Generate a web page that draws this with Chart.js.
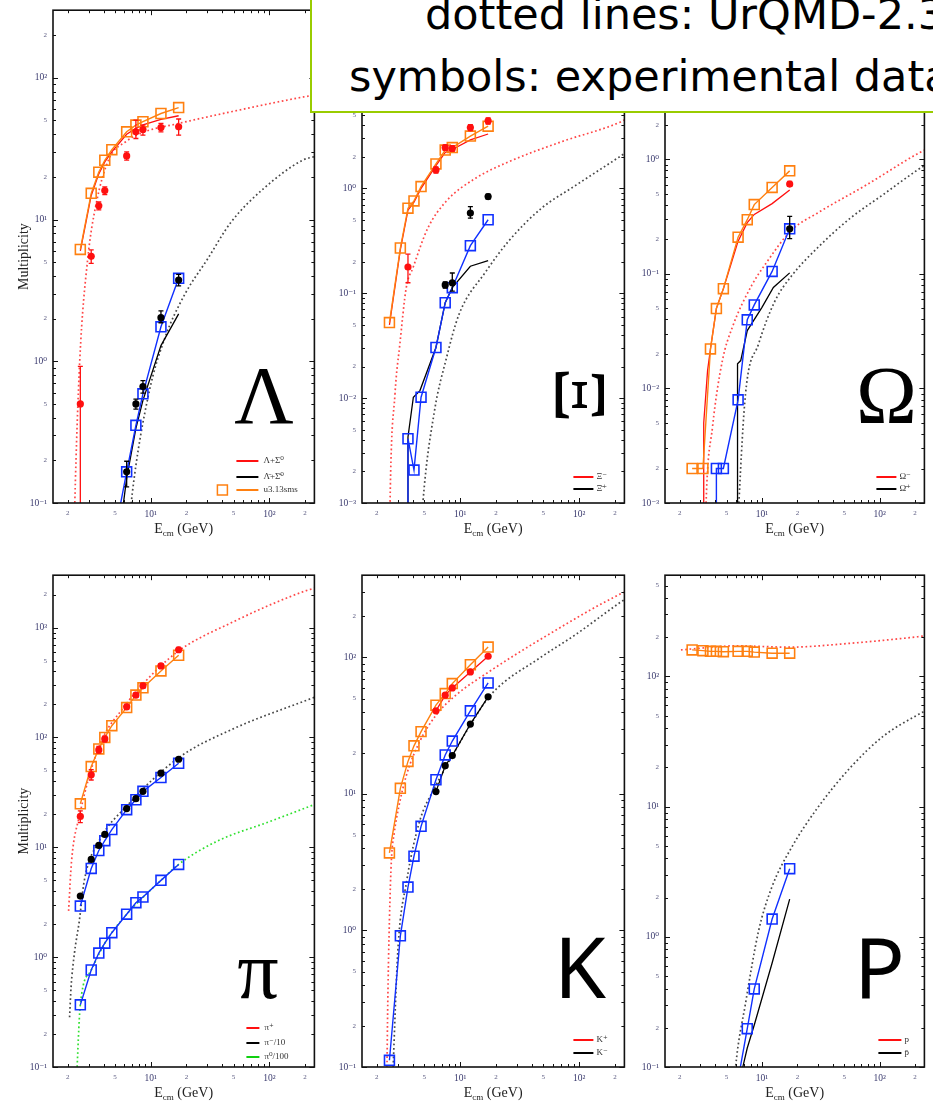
<!DOCTYPE html>
<html>
<head>
<meta charset="utf-8">
<script src="https://cdn.jsdelivr.net/npm/chart.js@4.4.1/dist/chart.umd.min.js"></script>
<style>
  html, body { margin: 0; padding: 0; background: #fff; }
  body { width: 933px; height: 1101px; position: relative; overflow: hidden; }
  canvas { position: absolute; }
  #note {
    position: absolute; left: 310px; top: -10px; width: 700px; height: 119px;
    border: 2.5px solid #99cc00; background: #fff; z-index: 5;
    font-family: 'DejaVu Sans', sans-serif; font-size: 43px; color: #000;
  }
  #note span { position: absolute; white-space: nowrap; line-height: 43px; }
</style>
</head>
<body>
<div id="note">
  <span style="left:113px; top:1px;">dotted lines: UrQMD-2.3</span>
  <span style="left:37px; top:63px;">symbols: experimental data</span>
</div>
<script>
// beam energies (sqrt s, GeV) of the model / data points
const E = [2.55, 3.15, 3.65, 4.1, 4.7, 6.27, 7.5, 8.6, 12.2, 17.2];

// ---- Lambda ----
const lamSqOrange = [6.15, 15.3, 21.6, 26.2, 31.1, 41.6, 46.4, 49, 56, 61.7];
const lamLineRed = [6.0, 14.8, 21, 25.5, 30, 40, 44, 46.5, 51, 54];
const lamDataE = [2.55, 3.15, 3.65, 4.1, 6.27, 7.5, 8.6, 12.2, 17.2];
const lamData = [0.5, 5.5, 12.5, 16.0, 28.1, 41.6, 43.2, 44.6, 45.1];
const lamDataLo = [0.05, 4.9, 11.7, 15.0, 26.3, 37.3, 39.4, 41.6, 39.4];
const lamDataHi = [0.92, 6.1, 13.3, 17.0, 30.0, 50.3, 46.4, 47.6, 51.2];
const alamDataE = [6.27, 7.5, 8.6, 12.2, 17.2];
const alamData = [0.166, 0.50, 0.664, 2.03, 3.74];
const alamDataLo = [0.130, 0.46, 0.596, 1.87, 3.4];
const alamDataHi = [0.197, 0.54, 0.73, 2.27, 4.1];
const alamSqE = [4.7, 6.27, 7.5, 8.6, 12.2, 17.2];
const alamSqBlue = [0.047, 0.166, 0.353, 0.589, 1.75, 3.85];
const alamLineBlack = [0.023, 0.15, 0.336, 0.53, 1.29, 2.16];
const lamUrE = [2.25, 2.29, 2.52, 2.93, 3.46, 4.47, 6.15, 8.45, 17.1, 47.2, 194, 240];
const lamUr = [0.05, 0.1, 1.0, 5.1, 12.8, 27, 35.4, 41, 47.6, 57.5, 73.3, 75.5];
const alamUrE = [6.6, 6.99, 9.62, 13.2, 19.4, 30.3, 47.2, 90, 194, 240];
const alamUr = [0.07, 0.117, 0.589, 1.47, 2.97, 5.3, 9.5, 16.6, 26.4, 27.8];

// ---- Xi ----
const xiSqOrange = [0.0525, 0.270, 0.647, 0.760, 1.04, 1.71, 2.32, 2.45, 3.15, 3.92];
const xiLineRed = [0.05, 0.26, 0.62, 0.74, 1.0, 1.65, 2.2, 2.35, 2.9, 3.3];
const xiDataE = [3.65, 6.27, 7.5, 8.6, 12.2, 17.2];
const xiData = [0.178, 1.50, 2.45, 2.40, 3.80, 4.40];
const xiDataLo = [0.126, 1.40, 2.30, 2.25, 3.55, 4.10];
const xiDataHi = [0.236, 1.60, 2.60, 2.55, 4.05, 4.70];
const axiDataE = [7.5, 8.6, 12.2, 17.2];
const axiData = [0.120, 0.126, 0.581, 0.835];
const axiDataLo = [0.112, 0.105, 0.52, 0.79];
const axiDataHi = [0.128, 0.156, 0.67, 0.88];
const axiSqE = [3.65, 3.65, 4.1, 4.7, 6.27, 7.5, 8.6, 12.2, 17.2];
const axiSqBlue = [0.0001, 0.0041, 0.00206, 0.0102, 0.0304, 0.0813, 0.113, 0.284, 0.502];
const axiLineE = [3.65, 3.65, 4.05, 4.6, 6.27, 7.5, 8.6, 12.2, 17.2];
const axiLineBlack = [0.0001, 0.00426, 0.0102, 0.0118, 0.0304, 0.0813, 0.113, 0.181, 0.205];
const xiUrE = [2.55, 2.58, 2.84, 3.12, 3.53, 4.02, 5.36, 7.62, 13.5, 25.5, 70.8, 223, 240];
const xiUr = [0.0003, 0.001, 0.011, 0.0327, 0.113, 0.175, 0.418, 0.75, 1.25, 1.79, 2.78, 4.3, 4.5];
const axiUrE = [4.7, 4.87, 6.1, 7.6, 9.8, 16.4, 25.5, 48.3, 91.4, 230, 240];
const axiUr = [0.0005, 0.001, 0.0076, 0.023, 0.063, 0.16, 0.313, 0.647, 1.05, 2.08, 2.15];

// ---- Omega ----
const omSqOrange = [0.002, 0.002, 0.0221, 0.0498, 0.0743, 0.209, 0.297, 0.402, 0.568, 0.792];
const omLineE = [3.18, 3.2, 3.45, 3.65, 4.1, 4.7, 6.27, 7.5, 8.6, 12.2, 17.2];
const omLineRed = [0.0001, 0.005, 0.0143, 0.022, 0.05, 0.074, 0.193, 0.28, 0.33, 0.41, 0.54];
const omDataE = [17.2];
const omData = [0.607];
const omDataLo = [0.58];
const omDataHi = [0.64];
const aomDataE = [17.2];
const aomData = [0.247];
const aomDataLo = [0.203];
const aomDataHi = [0.318];
const aomSqE = [4.1, 4.1, 4.7, 6.27, 7.5, 8.6, 12.2, 17.2];
const aomSqBlue = [0.0001, 0.002, 0.002, 0.00796, 0.0397, 0.0536, 0.105, 0.247];
const aomLineE = [6.2, 6.2, 6.6, 7.5, 10, 12.5, 17.2];
const aomLineBlack = [0.0001, 0.0164, 0.0175, 0.032, 0.051, 0.076, 0.102];
const omUrE = [3.3, 3.35, 3.8, 4.61, 5.59, 8.22, 10.6, 17.8, 29.7, 77.8, 204, 240];
const omUr = [0.0005, 0.001, 0.0046, 0.0175, 0.034, 0.08, 0.12, 0.24, 0.34, 0.6, 1.1, 1.2];
const aomUrE = [6.2, 6.37, 7.25, 9.35, 12.9, 17.8, 29.7, 56.5, 107, 211, 240];
const aomUr = [0.0005, 0.001, 0.00897, 0.0244, 0.058, 0.0957, 0.169, 0.307, 0.491, 0.81, 0.88];

// ---- pions ----
const piSqOrange = [24.9, 54.3, 78.7, 100, 128, 187, 243, 283, 403, 560];
const piDataE = [2.55, 3.15, 3.65, 4.1, 6.27, 7.5, 8.6, 12.2, 17.2];
const piData = [19.1, 45.7, 77, 96.9, 190, 243, 295, 448, 629];
const piDataLo = [16.8, 41, 72, 91, 180, 232, 282, 425, 600];
const piDataHi = [21.5, 51, 83, 103, 200, 255, 310, 470, 660];
const pimData = [3.6, 7.75, 10.4, 13.1, 22.5, 27.7, 32.3, 47.3, 63.3];
const pimSqBlue = [2.92, 6.42, 9.35, 11.5, 14.5, 22, 27.1, 32.3, 43.2, 58.2];
const pi0SqBlue = [0.368, 0.764, 1.09, 1.34, 1.67, 2.46, 3.13, 3.53, 5.0, 6.98];
const pipUrE = [2.03, 2.15, 2.5, 3.67, 6.12, 8.41, 17.0, 47.1, 205, 240];
const pipUr = [2.64, 7.48, 19.1, 82.6, 197, 299, 608, 1099, 2173, 2280];
const pimUrE = [2.07, 2.13, 2.27, 2.5, 2.75, 3.67, 6.24, 17.0, 47.2, 225, 240];
const pimUr = [0.284, 0.531, 1.07, 2.14, 4.93, 11.4, 23.6, 64.7, 117, 226, 232];
const pi0UrE = [2.36, 2.55, 3.15, 4.1, 6.27, 8.6, 12.2, 17.2, 36.5, 100, 240];
const pi0Ur = [0.07, 0.37, 0.76, 1.34, 2.46, 3.5, 5.0, 7.0, 11.4, 17.1, 24.5];

// ---- kaons ----
const kpSqOrange = [3.70, 11.0, 17.3, 22.5, 28.6, 44.7, 54.3, 64.3, 88.5, 119];
const kDataE = [6.27, 7.5, 8.6, 12.2, 17.2];
const kpData = [40.6, 52.9, 59.8, 78.3, 102];
const kmSqBlue = [0.112, 0.914, 2.08, 3.50, 5.79, 12.7, 19.3, 24.4, 40.6, 65.0];
const kmData = [10.4, 16.1, 19.1, 32.5, 51.4];
const kpUrE = [2.42, 2.47, 2.55, 2.65, 2.8, 3.05, 3.55, 4.58, 6.29, 9.22, 17.4, 48.3, 223, 240];
const kpUr = [0.07, 0.3, 1.2, 3.3, 5.2, 8.0, 13.8, 24.2, 37.8, 52.9, 78.3, 137, 292, 300];
const kmUrE = [2.7, 2.74, 3.0, 3.56, 4.57, 6.09, 8.6, 12.2, 18.0, 48.3, 91.4, 223, 240];
const kmUr = [0.07, 0.1, 0.71, 2.3, 6.3, 11, 19, 32, 52.9, 101, 145, 254, 265];

// ---- protons ----
const pSqOrange = [160, 158, 156, 156, 155, 156, 156, 154, 151, 151];
const pUrE = [2.05, 3.0, 6.0, 17.0, 56.5, 211, 240];
const pUr = [160, 165, 172, 168, 180, 202, 205];
const apSqE = [6.27, 7.5, 8.6, 12.2, 17.2];
const apSqBlue = [0.08, 0.197, 0.398, 1.37, 3.34];
const apLineBlack = [0.07, 0.14, 0.21, 0.63, 1.95];
const apUrE = [5.8, 5.97, 7.24, 9.36, 12.1, 17.8, 29.7, 56.5, 107, 211, 240];
const apUr = [0.07, 0.1, 0.306, 1.11, 2.39, 4.84, 9.8, 20, 34.7, 50.8, 54];

const SERIF = "'Liberation Serif', 'DejaVu Serif', serif";
const RED = '#ff1010', BLACK = '#000000', ORANGE = '#ff8010', BLUE = '#1030ff';
const RED_DOT = 'rgba(255,50,50,0.9)', BLACK_DOT = 'rgba(40,40,40,0.85)', GREEN_DOT = '#30e030';
const SUP = {'-': '⁻', '0': '⁰', '1': '¹', '2': '²', '3': '³', '4': '⁴', '5': '⁵', '6': '⁶', '7': '⁷', '8': '⁸', '9': '⁹'};

Chart.defaults.font.family = SERIF;

function decade(v) { return Math.floor(Math.log10(v) + 1e-9); }
function mant(v) { return Math.round(v / Math.pow(10, decade(v))); }

function logTicks(scale) {
  const ticks = [];
  for (let d = decade(scale.min); d <= decade(scale.max); d++) {
    for (let m = 1; m <= 9; m++) {
      const v = parseFloat((m * Math.pow(10, d)).toPrecision(6));
      if (v >= scale.min * 0.999 && v <= scale.max * 1.001) ticks.push({ value: v });
    }
  }
  scale.ticks = ticks;
}

function tickLabel(v) {
  const m = mant(v);
  if (m === 1) return '10' + String(decade(v)).split('').map(c => SUP[c]).join('');
  if (m === 2 || m === 5) return String(m);
  return '';
}

const tickFont = c => ({ family: SERIF, size: c.tick && mant(c.tick.value) === 1 ? 9.5 : 7 });
const tickColor = c => (c.tick && mant(c.tick.value) === 1 ? '#3a3a6e' : '#5a5a80');

function pts(xs, ys) { return xs.map((x, i) => ({ x, y: ys[i] })); }

function dotted(xs, ys, color) {
  return { data: pts(xs, ys), showLine: true, borderColor: color, borderWidth: 1.7,
    borderDash: [1.7, 2.6], pointRadius: 0, cubicInterpolationMode: 'monotone', order: 9 };
}
function solid(xs, ys, color) {
  return { data: pts(xs, ys), showLine: true, borderColor: color, borderWidth: 1.3,
    pointRadius: 0, order: 6 };
}
function squares(xs, ys, color, tail) {
  return { data: pts(xs, ys), showLine: true, borderColor: color, borderWidth: 1.4,
    pointStyle: 'rect', pointRadius: xs.map((_, i) => (i < (tail || 0) ? 0 : 7)),
    pointBorderWidth: 1.6, pointBorderColor: color, pointBackgroundColor: 'rgba(0,0,0,0)', order: 4 };
}
function dots(xs, ys, color) {
  return { data: pts(xs, ys), showLine: false, pointStyle: 'circle', pointRadius: 3.6,
    pointBackgroundColor: color, pointBorderColor: color, pointBorderWidth: 0, order: 2 };
}

const panels = [
  {
    area: [53, 8, 318, 503], ymin: 0.1, ymax: 300, yTitle: true,
    letter: { text: 'Λ', font: `82px ${SERIF}`, dx: -50.5, dy: -80 },
    legend: { x1: -78, x2: -56, tx: -51, rows: [
      { color: RED, label: 'Λ+Σ⁰', dy: 42 },
      { color: BLACK, label: 'Λ̄+Σ̄⁰', dy: 26 },
      { color: ORANGE, label: 'u3.13sms', dy: 13, square: -92 }
    ] },
    datasets: [
      dots(lamDataE, lamData, RED), dots(alamDataE, alamData, BLACK),
      squares(E, lamSqOrange, ORANGE), squares(alamSqE, alamSqBlue, BLUE, 1),
      solid(E, lamLineRed, RED), solid(alamSqE, alamLineBlack, BLACK),
      dotted(lamUrE, lamUr, RED_DOT), dotted(alamUrE, alamUr, BLACK_DOT)
    ],
    errors: [
      { xs: lamDataE, lo: lamDataLo, hi: lamDataHi, color: RED },
      { xs: alamDataE, lo: alamDataLo, hi: alamDataHi, color: BLACK }
    ]
  },
  {
    area: [362, 8, 628, 503], ymin: 0.001, ymax: 50,
    letter: { text: 'Ξ', font: `88px ${SERIF}`, dx: -45, dy: -108, rotate: Math.PI / 2, squash: 0.85, lift: 29 },
    legend: { x1: -51, x2: -31, tx: -28, rows: [
      { color: RED, label: 'Ξ⁻', dy: 26 },
      { color: BLACK, label: 'Ξ̄⁺', dy: 14 }
    ] },
    datasets: [
      dots(xiDataE, xiData, RED), dots(axiDataE, axiData, BLACK),
      squares(E, xiSqOrange, ORANGE), squares(axiSqE, axiSqBlue, BLUE, 1),
      solid(E, xiLineRed, RED), solid(axiLineE, axiLineBlack, BLACK),
      dotted(xiUrE, xiUr, RED_DOT), dotted(axiUrE, axiUr, BLACK_DOT)
    ],
    errors: [
      { xs: xiDataE, lo: xiDataLo, hi: xiDataHi, color: RED },
      { xs: axiDataE, lo: axiDataLo, hi: axiDataHi, color: BLACK }
    ]
  },
  {
    area: [665, 8, 928, 503], ymin: 0.001, ymax: 20,
    letter: { text: 'Ω', font: `82px ${SERIF}`, dx: -38, dy: -80 },
    legend: { x1: -48, x2: -28, tx: -25, rows: [
      { color: RED, label: 'Ω⁻', dy: 26 },
      { color: BLACK, label: 'Ω̄⁺', dy: 14 }
    ] },
    datasets: [
      dots(omDataE, omData, RED), dots(aomDataE, aomData, BLACK),
      squares(E, omSqOrange, ORANGE), squares(aomSqE, aomSqBlue, BLUE, 1),
      solid(omLineE, omLineRed, RED), solid(aomLineE, aomLineBlack, BLACK),
      dotted(omUrE, omUr, RED_DOT), dotted(aomUrE, aomUr, BLACK_DOT)
    ],
    errors: [
      { xs: omDataE, lo: omDataLo, hi: omDataHi, color: RED },
      { xs: aomDataE, lo: aomDataLo, hi: aomDataHi, color: BLACK }
    ]
  },
  {
    area: [53, 573, 318, 1067], ymin: 0.1, ymax: 3000, yTitle: true,
    letter: { text: 'π', font: `82px ${SERIF}`, dx: -56.5, dy: -69 },
    legend: { x1: -68, x2: -55, tx: -50, rows: [
      { color: RED, label: 'π⁺', dy: 39 },
      { color: BLACK, label: 'π⁻/10', dy: 24 },
      { color: '#10d010', label: 'π⁰/100', dy: 10 }
    ] },
    datasets: [
      dots(piDataE, piData, RED), dots(piDataE, pimData, BLACK),
      squares(E, piSqOrange, ORANGE), squares(E, pimSqBlue, BLUE), squares(E, pi0SqBlue, BLUE),
      dotted(pipUrE, pipUr, RED_DOT), dotted(pimUrE, pimUr, BLACK_DOT), dotted(pi0UrE, pi0Ur, GREEN_DOT)
    ],
    errors: [
      { xs: piDataE, lo: piDataLo, hi: piDataHi, color: RED }
    ]
  },
  {
    area: [362, 573, 628, 1067], ymin: 0.1, ymax: 400,
    letter: { text: 'K', font: `84px 'Noto Sans', sans-serif`, dx: -44.5, dy: -69 },
    legend: { x1: -51, x2: -31, tx: -28, rows: [
      { color: RED, label: 'K⁺', dy: 27 },
      { color: BLACK, label: 'K⁻', dy: 14 }
    ] },
    datasets: [
      dots(kDataE, kpData, RED), dots(kDataE, kmData, BLACK),
      squares(E, kpSqOrange, ORANGE), squares(E, kmSqBlue, BLUE),
      solid(kDataE, kpData, RED), solid(kDataE, kmData, BLACK),
      dotted(kpUrE, kpUr, RED_DOT), dotted(kmUrE, kmUr, BLACK_DOT)
    ],
    errors: []
  },
  {
    area: [665, 573, 928, 1067], ymin: 0.1, ymax: 600,
    letter: { text: 'P', font: `84px 'Noto Sans', sans-serif`, dx: -45, dy: -69 },
    legend: { x1: -46, x2: -23, tx: -20, rows: [
      { color: RED, label: 'p', dy: 27 },
      { color: BLACK, label: 'p̄', dy: 14 }
    ] },
    datasets: [
      squares(E, pSqOrange, ORANGE), squares(apSqE, apSqBlue, BLUE, 1),
      solid(apSqE, apLineBlack, BLACK),
      dotted(pUrE, pUr, RED_DOT), dotted(apUrE, apUr, BLACK_DOT)
    ],
    errors: []
  }
];

function seg(ctx, x1, y1, x2, y2) {
  ctx.beginPath(); ctx.moveTo(x1, y1); ctx.lineTo(x2, y2); ctx.stroke();
}

function makeDeco(p) {
  return {
    id: 'deco',
    afterDatasetsDraw(chart) {
      const { ctx, chartArea: a, scales: { x, y } } = chart;
      ctx.save();
      ctx.beginPath();
      ctx.rect(a.left, a.top, a.right - a.left, a.bottom - a.top);
      ctx.clip();
      p.errors.forEach(e => {
        ctx.strokeStyle = e.color;
        ctx.lineWidth = 1.3;
        e.xs.forEach((xv, i) => {
          const px = x.getPixelForValue(xv);
          const y1 = y.getPixelForValue(e.lo[i]);
          const y2 = y.getPixelForValue(e.hi[i]);
          seg(ctx, px, y1, px, y2);
          seg(ctx, px - 2.5, y1, px + 2.5, y1);
          seg(ctx, px - 2.5, y2, px + 2.5, y2);
        });
      });
      ctx.restore();
    },
    afterDraw(chart) {
      const { ctx, chartArea: a, scales: { x, y } } = chart;
      ctx.save();
      // frame
      ctx.strokeStyle = '#111';
      ctx.lineWidth = 1.6;
      ctx.strokeRect(a.left, a.top, a.right - a.left, a.bottom - a.top);
      // inward tick marks on all four sides
      ctx.lineWidth = 1;
      x.ticks.forEach(t => {
        const px = Math.round(x.getPixelForValue(t.value)) + 0.5;
        const len = mant(t.value) === 1 ? 5 : 3;
        seg(ctx, px, a.bottom, px, a.bottom - len);
        seg(ctx, px, a.top, px, a.top + len);
      });
      y.ticks.forEach(t => {
        const py = Math.round(y.getPixelForValue(t.value)) + 0.5;
        const len = mant(t.value) === 1 ? 5 : 3;
        seg(ctx, a.left, py, a.left + len, py);
        seg(ctx, a.right, py, a.right - len, py);
      });

      // axis titles
      ctx.fillStyle = '#222';
      if (p.yTitle) {
        ctx.save();
        ctx.translate(a.left - 29, (a.top + a.bottom) / 2);
        ctx.rotate(-Math.PI / 2);
        ctx.font = `14px ${SERIF}`;
        ctx.textAlign = 'center';
        ctx.textBaseline = 'middle';
        ctx.fillText('Multiplicity', 0, 0);
        ctx.restore();
      }
      ctx.textAlign = 'left';
      ctx.textBaseline = 'alphabetic';
      ctx.font = `14px ${SERIF}`;
      const wE = ctx.measureText('E').width;
      const wR = ctx.measureText(' (GeV)').width;
      ctx.font = `9px ${SERIF}`;
      const wS = ctx.measureText('cm').width;
      let sx = (a.left + a.right) / 2 - (wE + wS + wR) / 2;
      const by = a.bottom + 30;
      ctx.font = `14px ${SERIF}`;
      ctx.fillText('E', sx, by);
      ctx.font = `9px ${SERIF}`;
      ctx.fillText('cm', sx + wE, by + 3);
      ctx.font = `14px ${SERIF}`;
      ctx.fillText(' (GeV)', sx + wE + wS, by);

      // legend
      const lg = p.legend;
      lg.rows.forEach(r => {
        const yy = a.bottom - r.dy;
        ctx.strokeStyle = r.color;
        ctx.lineWidth = 2;
        seg(ctx, a.right + lg.x1, yy, a.right + lg.x2, yy);
        if (r.square) {
          ctx.lineWidth = 1.5;
          ctx.strokeRect(a.right + r.square - 5, yy - 5, 10, 10);
        }
        ctx.fillStyle = '#333';
        ctx.font = `9px ${SERIF}`;
        ctx.textBaseline = 'middle';
        ctx.fillText(r.label, a.right + lg.tx, yy);
      });

      // big particle symbol
      const L = p.letter;
      ctx.save();
      ctx.fillStyle = '#000';
      ctx.font = L.font;
      ctx.textAlign = 'center';
      ctx.textBaseline = 'alphabetic';
      ctx.translate(a.right + L.dx, a.bottom + L.dy);
      if (L.rotate) {
        ctx.rotate(L.rotate);
        ctx.scale(1, L.squash);
        ctx.fillText(L.text, 0, L.lift);
      } else {
        ctx.fillText(L.text, 0, 0);
      }
      ctx.restore();
      ctx.restore();
    }
  };
}

function makePanel(p) {
  const [L, T, R, B] = p.area;
  const cv = document.createElement('canvas');
  cv.width = R - L + 53 + 5;
  cv.height = B - T + 8 + 34;
  cv.style.left = (L - 53) + 'px';
  cv.style.top = (T - 8) + 'px';
  document.body.appendChild(cv);

  new Chart(cv, {
    type: 'scatter',
    data: { datasets: p.datasets },
    options: {
      responsive: false,
      animation: false,
      events: [],
      layout: { padding: { top: 8, right: 5, left: 0, bottom: 0 } },
      plugins: { legend: { display: false }, tooltip: { enabled: false } },
      scales: {
        x: {
          type: 'logarithmic', min: 1.5, max: 240, position: 'bottom',
          grid: { display: false, drawTicks: false }, border: { display: false },
          afterBuildTicks: logTicks,
          afterFit: s => { s.height = 34; },
          ticks: { callback: v => tickLabel(v), autoSkip: false, maxRotation: 0, minRotation: 0,
            padding: 6, font: tickFont, color: tickColor }
        },
        y: {
          type: 'logarithmic', min: p.ymin, max: p.ymax, position: 'left',
          grid: { display: false, drawTicks: false }, border: { display: false },
          afterBuildTicks: logTicks,
          afterFit: s => { s.width = 53; },
          ticks: { callback: v => tickLabel(v), autoSkip: false, padding: 6,
            font: tickFont, color: tickColor }
        }
      }
    },
    plugins: [makeDeco(p)]
  });
}

panels.forEach(makePanel);
</script>
</body>
</html>
